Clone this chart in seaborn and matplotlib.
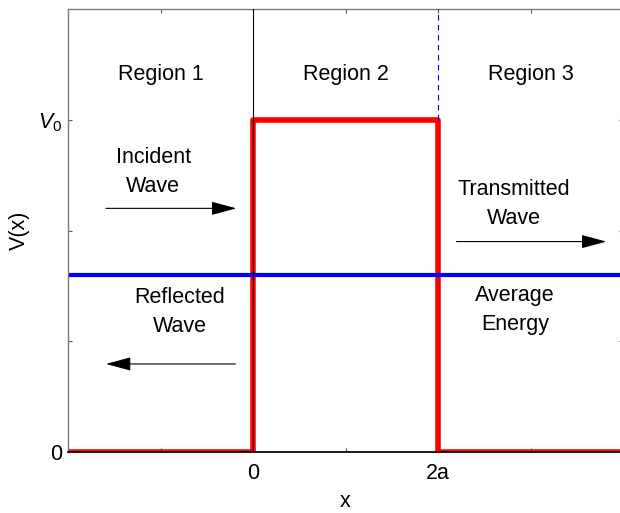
import matplotlib
matplotlib.use("Agg")
import matplotlib.pyplot as plt
import pandas as pd
import seaborn as sns

# potential step profile (x in units of a, V in units where V0 = 3)
x_pot = [-2, 0, 0, 2, 2, 4]
v_pot = [0, 0, 3, 3, 0, 0]
v0 = 3
energy = 1.6
x_range = [-2, 4]

region_labels = ["Region 1", "Region 2", "Region 3"]
region_x = [-1, 1, 3]
region_y = 3.41

notes = ["Incident\nWave", "Reflected\nWave", "Transmitted\nWave", "Average\nEnergy"]
note_x = [-1.08, -0.79, 2.82, 2.83]
note_y = [2.53, 1.265, 2.24, 1.28]

# arrows: (start x, end x, y)
arrows = [(-1.59, -0.18, 2.2), (-0.19, -1.59, 0.795), (2.2, 3.82, 1.9)]

sns.set_theme(style="white")
plt.rcParams["font.family"] = ["Liberation Sans", "DejaVu Sans"]
plt.rcParams["mathtext.fontset"] = "custom"
plt.rcParams["mathtext.it"] = "Liberation Sans:italic"
plt.rcParams["mathtext.rm"] = "Liberation Sans"
plt.rcParams["text.color"] = "black"
plt.rcParams["axes.labelcolor"] = "black"
plt.rcParams["xtick.labelcolor"] = "black"
plt.rcParams["ytick.labelcolor"] = "black"

fig = plt.figure(figsize=(6.2, 5.13), dpi=100)
ax = fig.add_axes([68 / 620, 61 / 513, 555 / 620, 443 / 513])

pot = pd.DataFrame({"x": x_pot, "V": v_pot})
sns.lineplot(data=pot, x="x", y="V", sort=False, estimator=None,
             color="red", linewidth=4.0, ax=ax, zorder=2)
en = pd.DataFrame({"x": x_range, "V": [energy, energy]})
sns.lineplot(data=en, x="x", y="V", sort=False, estimator=None,
             color="blue", linewidth=3.0, ax=ax, zorder=2)

# axis lines through the origin and the barrier edge
ax.axvline(0, color="black", linewidth=0.8, zorder=3)
ax.axhline(0, color="black", linewidth=1.0, zorder=3)
ax.plot([2, 2], [v0, 4], color="blue", linewidth=0.8, linestyle=(0, (5, 4)), zorder=3)

ax.set_xlim(*x_range)
ax.set_ylim(0, 4)

ax.set_xticks([0, 2])
ax.set_xticklabels(["0", "2a"])
ax.set_xticks([-1, 1, 3], minor=True)
ax.set_yticks([0, v0])
ax.set_yticklabels(["0", "$V_0$"])
ax.set_yticks([1, 2], minor=True)
ax.tick_params(axis="both", which="both", direction="in", length=3,
               width=0.8, color="#555555", labelsize=15.5, top=True, right=True,
               bottom=True, left=True)
ax.tick_params(axis="x", which="major", pad=8)
ax.tick_params(axis="y", which="major", pad=4)

ax.set_xlabel("x", fontsize=15.5, labelpad=5)
ax.set_ylabel("V(x)", fontsize=15.5, labelpad=6)

for side in ["top", "left", "right"]:
    ax.spines[side].set_color("#7a7a7a")
    ax.spines[side].set_linewidth(1.0)
ax.spines["bottom"].set_color("black")

for label, xr in zip(region_labels, region_x):
    ax.text(xr, region_y, label, ha="center", va="center", fontsize=15.5)
for note, nx, ny in zip(notes, note_x, note_y):
    ax.text(nx, ny, note, ha="center", va="center", fontsize=15.5, linespacing=1.5)

for x0, x1, y in arrows:
    ax.annotate("", xy=(x1, y), xytext=(x0, y),
                arrowprops=dict(arrowstyle="-|>,head_length=1.3,head_width=0.35",
                                color="black", linewidth=0.8, shrinkA=0, shrinkB=0))

fig.savefig("out.png", dpi=100)
